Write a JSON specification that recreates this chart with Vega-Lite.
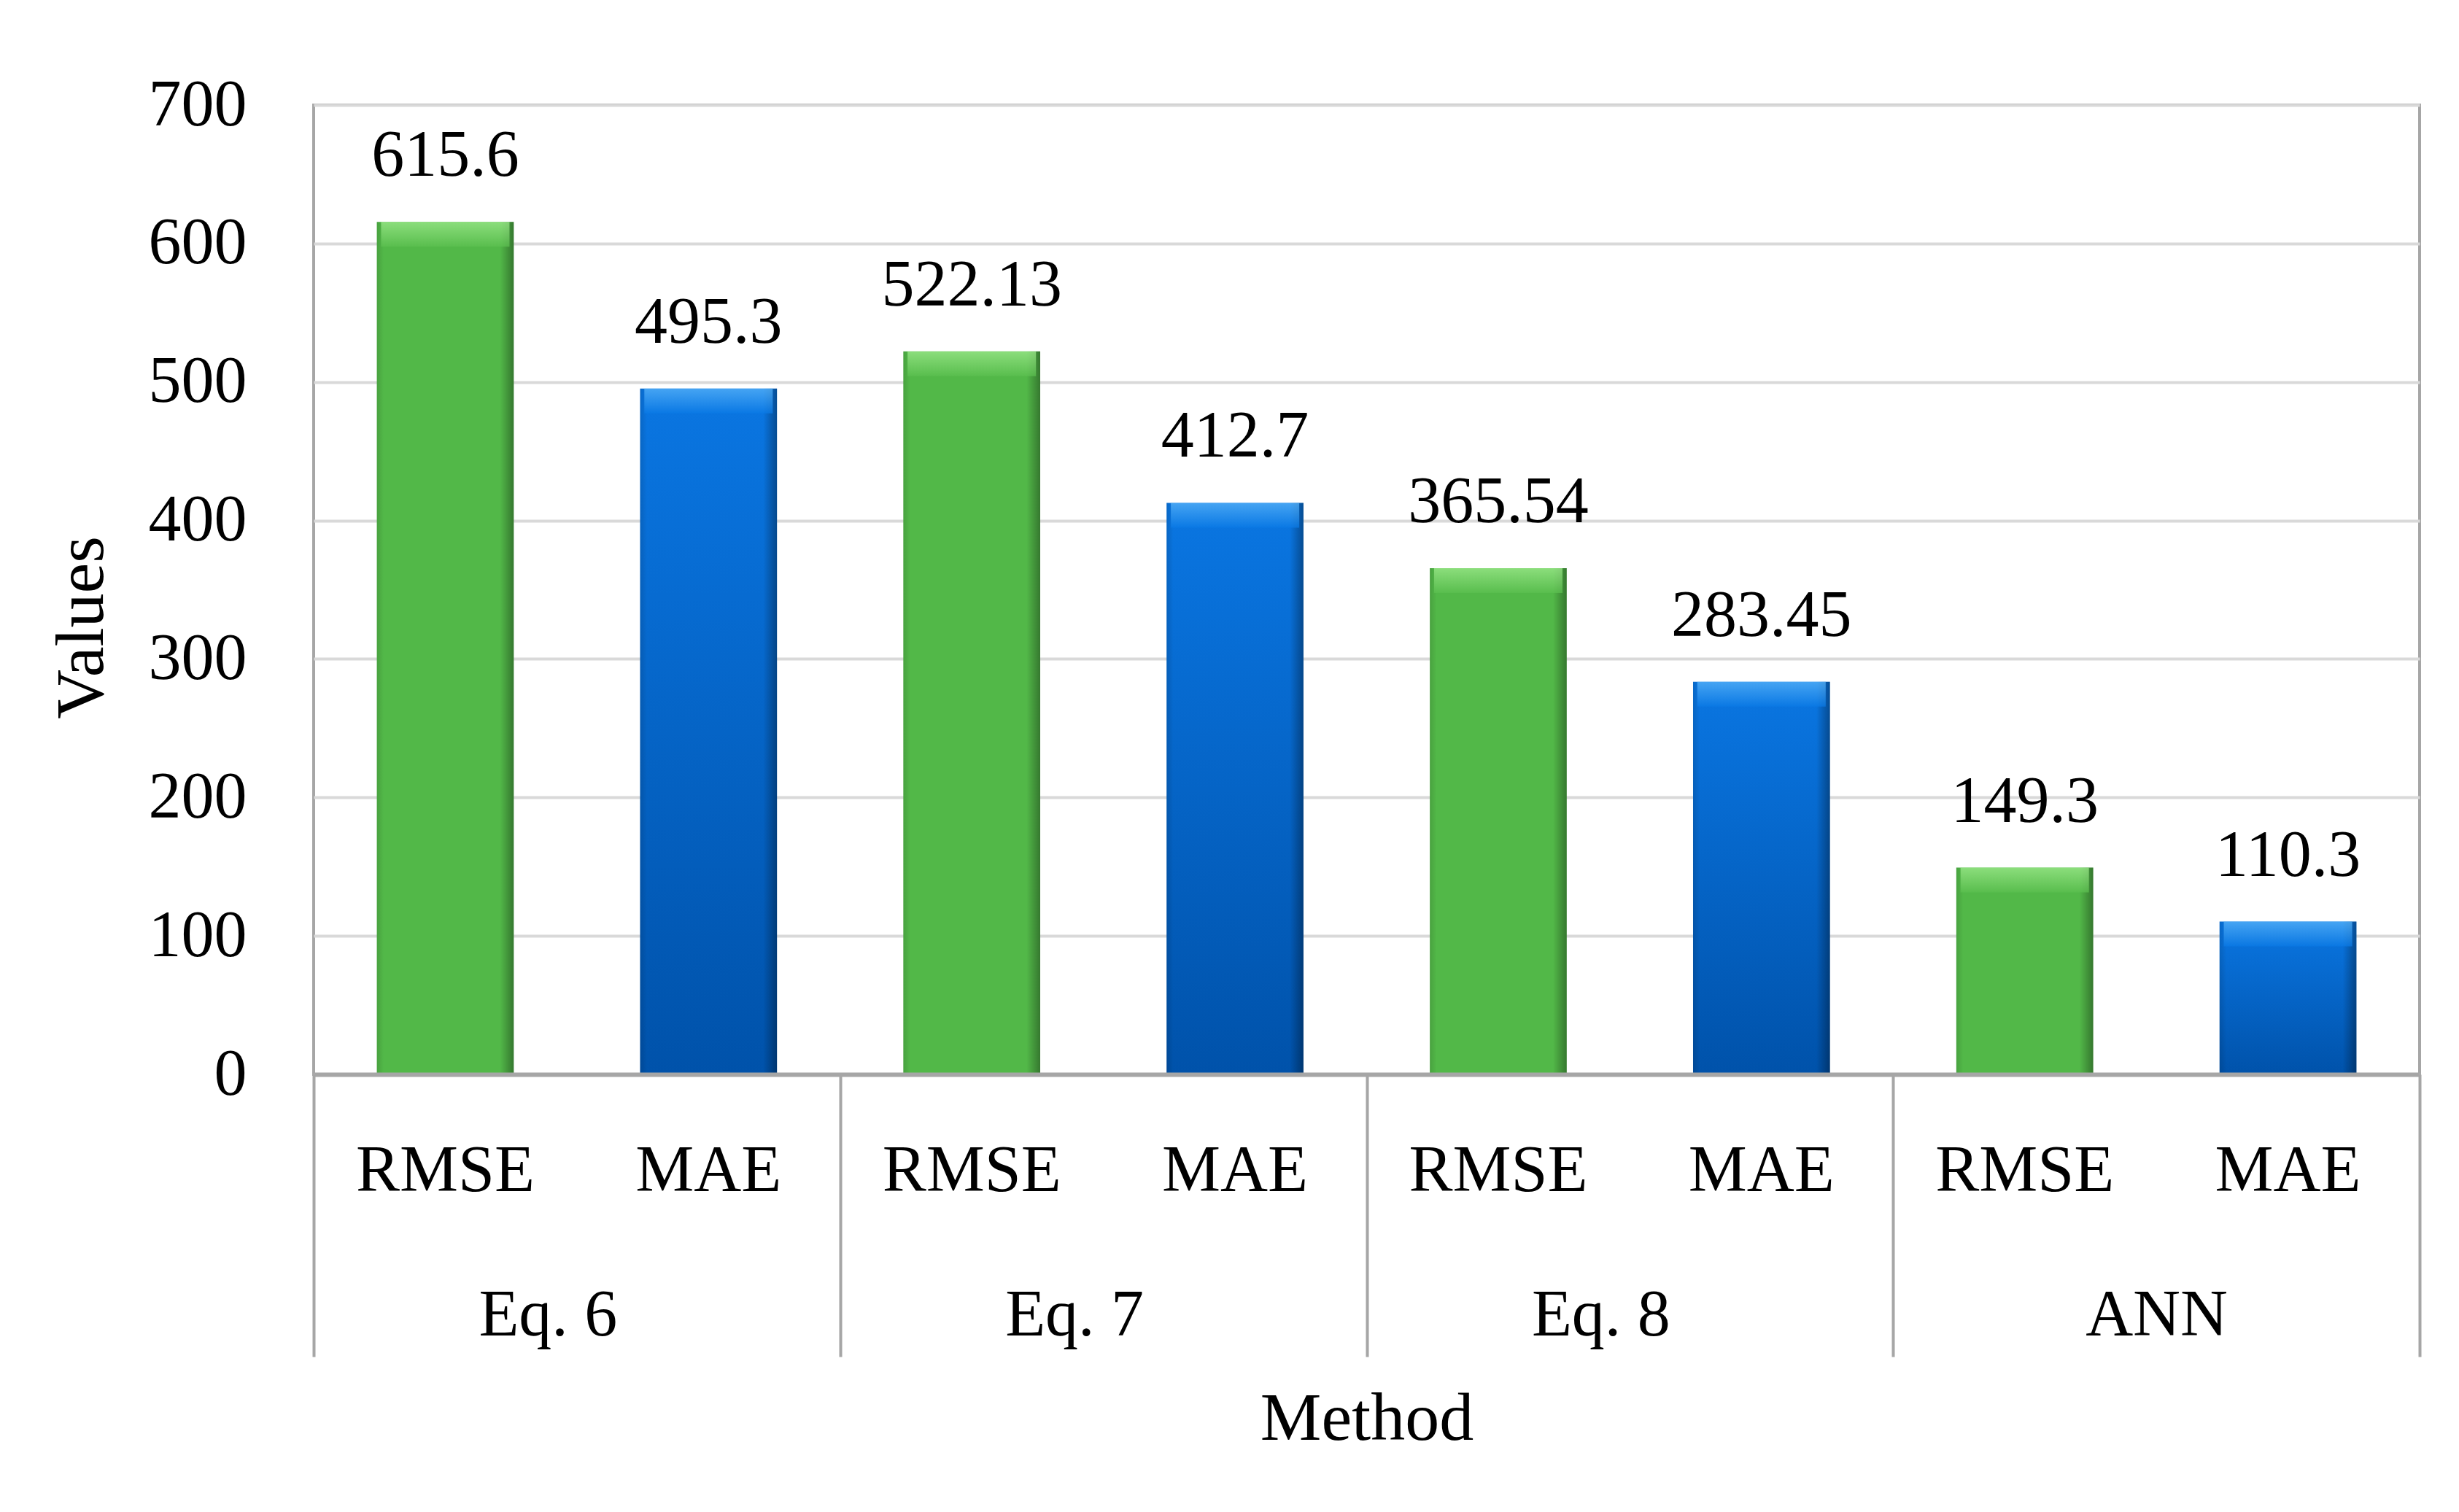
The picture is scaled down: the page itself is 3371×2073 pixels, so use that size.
{
  "$schema": "https://vega.github.io/schema/vega-lite/v6.json",
  "width": 2887,
  "height": 1329,
  "autosize": {"type": "none"},
  "padding": {"left": 430, "top": 144, "right": 54, "bottom": 600},
  "background": "white",
  "config": {
    "font": "Liberation Serif",
    "view": {"stroke": "#a6a6a6", "strokeWidth": 4},
    "axis": {"labelColor": "black", "titleColor": "black", "titleFontWeight": "normal", "labelFont": "Liberation Serif", "titleFont": "Liberation Serif", "labelLimit": 0}
  },
  "data": {
    "values": [
      {"group": "Eq. 6", "metric": "RMSE", "bar": "Eq. 6|RMSE", "value": 615.6},
      {"group": "Eq. 6", "metric": "MAE", "bar": "Eq. 6|MAE", "value": 495.3},
      {"group": "Eq. 7", "metric": "RMSE", "bar": "Eq. 7|RMSE", "value": 522.13},
      {"group": "Eq. 7", "metric": "MAE", "bar": "Eq. 7|MAE", "value": 412.7},
      {"group": "Eq. 8", "metric": "RMSE", "bar": "Eq. 8|RMSE", "value": 365.54},
      {"group": "Eq. 8", "metric": "MAE", "bar": "Eq. 8|MAE", "value": 283.45},
      {"group": "ANN", "metric": "RMSE", "bar": "ANN|RMSE", "value": 149.3},
      {"group": "ANN", "metric": "MAE", "bar": "ANN|MAE", "value": 110.3}
    ]
  },
  "layer": [
    {
      "encoding": {
        "x": {
          "field": "bar",
          "type": "nominal",
          "sort": ["Eq. 6|RMSE", "Eq. 6|MAE", "Eq. 7|RMSE", "Eq. 7|MAE", "Eq. 8|RMSE", "Eq. 8|MAE", "ANN|RMSE", "ANN|MAE"],
          "scale": {"paddingInner": 0.48, "paddingOuter": 0.24},
          "axis": {
            "orient": "bottom",
            "title": null,
            "labelExpr": "split(datum.label, '|')[1]",
            "labelAngle": 0,
            "labelFontSize": 90,
            "labelPadding": 88,
            "ticks": false,
            "domain": false,
            "grid": false
          }
        },
        "y": {
          "field": "value",
          "type": "quantitative",
          "scale": {"domain": [0, 700], "nice": false},
          "axis": {
            "values": [0, 100, 200, 300, 400, 500, 600, 700],
            "domain": false,
            "ticks": false,
            "labelPadding": 92,
            "labelFontSize": 90,
            "grid": true,
            "gridColor": "#d9d9d9",
            "gridWidth": 4,
            "title": "Values",
            "titleFontSize": 94,
            "titlePadding": 70,
            "titleY": 716
          }
        }
      },
      "layer": [
        {
          "transform": [{"filter": "datum.metric === 'RMSE'"}],
          "mark": {"type": "bar", "color": "#52b848"}
        },
        {
          "transform": [{"filter": "datum.metric === 'MAE'"}],
          "mark": {
            "type": "bar",
            "color": {
              "gradient": "linear", "x1": 0, "y1": 0, "x2": 0, "y2": 1,
              "stops": [
                {"offset": 0, "color": "#0a76e2"},
                {"offset": 1, "color": "#0052aa"}
              ]
            }
          }
        },
        {
          "mark": {
            "type": "bar",
            "color": {
              "gradient": "linear", "x1": 0, "y1": 0, "x2": 1, "y2": 0,
              "stops": [
                {"offset": 0, "color": "rgba(0,0,0,0.12)"},
                {"offset": 0.05, "color": "rgba(0,0,0,0)"},
                {"offset": 0.9, "color": "rgba(0,0,0,0)"},
                {"offset": 1, "color": "rgba(0,0,0,0.35)"}
              ]
            }
          }
        },
        {
          "transform": [{"filter": "datum.metric === 'RMSE'"}],
          "mark": {
            "type": "tick", "orient": "horizontal", "thickness": 34, "size": 176, "yOffset": 17,
            "color": {
              "gradient": "linear", "x1": 0, "y1": 0, "x2": 0, "y2": 1,
              "stops": [
                {"offset": 0, "color": "#a4ee92"},
                {"offset": 1, "color": "#5cc050"}
              ]
            }
          }
        },
        {
          "transform": [{"filter": "datum.metric === 'MAE'"}],
          "mark": {
            "type": "tick", "orient": "horizontal", "thickness": 34, "size": 176, "yOffset": 17,
            "color": {
              "gradient": "linear", "x1": 0, "y1": 0, "x2": 0, "y2": 1,
              "stops": [
                {"offset": 0, "color": "#5fb8fa"},
                {"offset": 1, "color": "#0a7ae6"}
              ]
            }
          }
        },
        {
          "mark": {"type": "text", "baseline": "alphabetic", "dy": -63, "fontSize": 90, "color": "black"},
          "encoding": {"text": {"field": "value", "type": "nominal"}}
        }
      ]
    },
    {
      "mark": {"type": "bar", "opacity": 0},
      "encoding": {
        "x": {
          "field": "group",
          "type": "nominal",
          "sort": ["Eq. 6", "Eq. 7", "Eq. 8", "ANN"],
          "scale": {"paddingInner": 0, "paddingOuter": 0},
          "axis": {
            "orient": "bottom",
            "tickBand": "extent",
            "tickSize": 387,
            "tickWidth": 4,
            "tickColor": "#a6a6a6",
            "domain": true,
            "domainColor": "#a6a6a6",
            "domainWidth": 6,
            "labelAngle": 0,
            "labelFontSize": 90,
            "labelPadding": -101,
            "labelOffset": {"condition": {"test": "datum.value === 'ANN'", "value": 0}, "value": -40},
            "grid": false,
            "title": "Method",
            "titleFontSize": 94,
            "titleBaseline": "top",
            "titleY": 426,
            "zindex": 1
          }
        }
      }
    }
  ],
  "resolve": {"scale": {"x": "independent"}}
}
